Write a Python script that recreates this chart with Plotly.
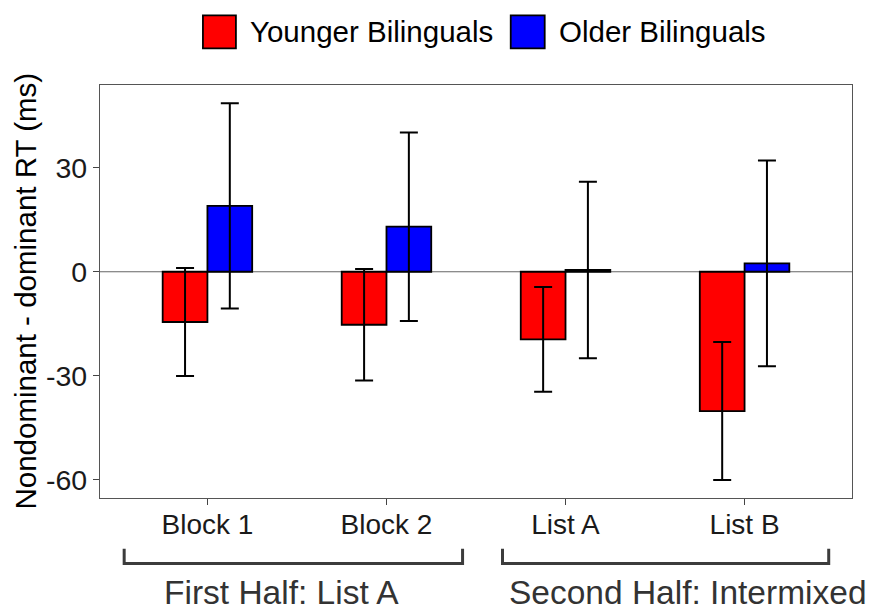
import plotly.graph_objects as go

categories = ["Block 1", "Block 2", "List A", "List B"]
younger_vals = [-14.5, -15.3, -19.5, -40.2]
younger_err = [15.6, 16.1, 15.1, 19.9]
older_vals = [19.0, 13.0, 0.5, 2.4]
older_err = [29.6, 27.2, 25.5, 29.7]
series_names = ["Younger Bilinguals", "Older Bilinguals"]
series_colors = ["#FF0000", "#0000FF"]
group_labels = ["First Half: List A", "Second Half: Intermixed"]
y_ticks = [-60, -30, 0, 30]
y_ticktext = ["-60", "-30", "0", "30"]

# page has an 8px body margin; figure is sized so it fills the 875x610 window
OFF = 8
W, H = 875 - OFF, 610 - OFF
P_LEFT, P_RIGHT, P_TOP, P_BOTTOM = 100, 852.5, 84.7, 498.3   # plot area in window pixels
ML, MR = P_LEFT - OFF, W - (P_RIGHT - OFF)
MT, MB = P_TOP - OFF, H - (P_BOTTOM - OFF)
PW, PH = P_RIGHT - P_LEFT, P_BOTTOM - P_TOP

def px_x(p):
    return (p - P_LEFT) / PW

def px_y(p):
    return (P_BOTTOM - p) / PH

FONT = "Liberation Sans, Arial, sans-serif"

fig = go.Figure()
for name, vals, errs, col in [
    (series_names[0], younger_vals, younger_err, series_colors[0]),
    (series_names[1], older_vals, older_err, series_colors[1]),
]:
    fig.add_trace(go.Bar(
        x=categories, y=vals, name=name,
        marker=dict(color=col, line=dict(color="black", width=1.8)),
        error_y=dict(type="data", array=errs, visible=True,
                     color="black", thickness=2, width=9),
        showlegend=False,
    ))

shapes = []
shapes.append(dict(type="line", xref="paper", yref="y", x0=0, x1=1, y0=0, y1=0,
                   line=dict(color="#666666", width=1.2), layer="below"))
bracket_spans = [(-0.465, 1.425), (1.648, 3.47)]
yt, yb = px_y(549), px_y(564)
for x0, x1 in bracket_spans:
    shapes.append(dict(type="path", xref="x", yref="paper",
                       path=f"M {x0},{yt} L {x0},{yb} L {x1},{yb} L {x1},{yt}",
                       line=dict(color="#3c3c3c", width=3)))
legend_boxes = [(203, 236), (511, 545)]
for (a, b), col in zip(legend_boxes, series_colors):
    shapes.append(dict(type="rect", xref="paper", yref="paper",
                       x0=px_x(a), x1=px_x(b), y0=px_y(48), y1=px_y(15),
                       fillcolor=col, line=dict(color="black", width=1.8)))

annotations = []
legend_text_x = [248, 557]
for name, xx in zip(series_names, legend_text_x):
    annotations.append(dict(text=name, xref="paper", yref="paper",
                            x=px_x(xx), y=px_y(31.5), xanchor="left", yanchor="middle",
                            showarrow=False, font=dict(size=29.5, color="black", family=FONT)))
group_centers = [282, 688]
for lab, cx in zip(group_labels, group_centers):
    annotations.append(dict(text=lab, xref="paper", yref="paper",
                            x=px_x(cx), y=px_y(593), xanchor="center", yanchor="middle",
                            showarrow=False, font=dict(size=33.5, color="#333333", family=FONT)))
annotations.append(dict(text="Nondominant - dominant RT (ms)", xref="paper", yref="paper",
                        x=px_x(25), y=px_y(291.5), xanchor="center", yanchor="middle",
                        textangle=-90, showarrow=False,
                        font=dict(size=29.5, color="black", family=FONT)))

fig.update_layout(
    width=W, height=H,
    margin=dict(l=ML, r=MR, t=MT, b=MB, pad=0),
    paper_bgcolor="white", plot_bgcolor="white",
    barmode="group", bargap=0.5, bargroupgap=0,
    font=dict(family=FONT, size=28, color="#1a1a1a"),
    shapes=shapes, annotations=annotations,
    xaxis=dict(type="category", range=[-0.6, 3.6], showgrid=False,
               ticks="outside", ticklen=6, tickwidth=1.2, tickcolor="#444444",
               ticklabelstandoff=-5,
               showline=True, linecolor="#555555", linewidth=1.2, mirror=True,
               tickfont=dict(size=28, color="#1a1a1a")),
    yaxis=dict(range=[-65.3, 53.9], tickvals=y_ticks, ticktext=y_ticktext,
               showgrid=False, zeroline=False,
               ticks="outside", ticklen=6, tickwidth=1.2, tickcolor="#444444",
               showline=True, linecolor="#555555", linewidth=1.2, mirror=True,
               tickfont=dict(size=28.5, color="#1a1a1a")),
)

fig.write_html("out.html")
